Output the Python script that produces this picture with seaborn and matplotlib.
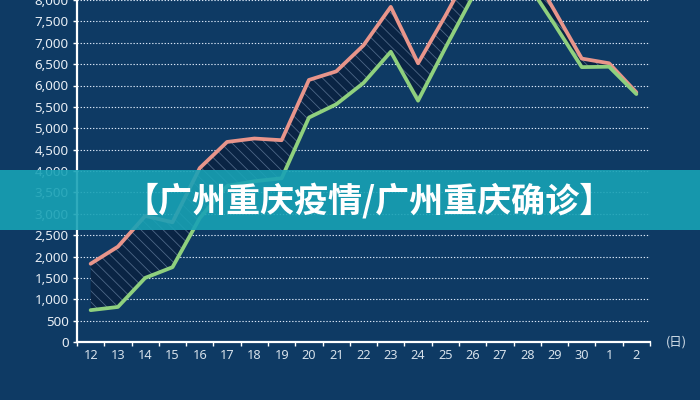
import numpy as np
import pandas as pd
import matplotlib
matplotlib.use("Agg")
import matplotlib.pyplot as plt
import seaborn as sns
from matplotlib.patches import Rectangle
from matplotlib.ticker import FuncFormatter

days = ["12", "13", "14", "15", "16", "17", "18", "19", "20", "21", "22",
        "23", "24", "25", "26", "27", "28", "29", "30", "1", "2"]
upper_vals = [1830, 2230, 2950, 2800, 4070, 4680, 4760, 4720, 6130, 6330, 6940,
              7840, 6520, 7630, 8800, 9100, 8850, 7750, 6630, 6520, 5840]
lower_vals = [745, 820, 1500, 1750, 2900, 3650, 3760, 3830, 5250, 5560, 6060,
              6790, 5645, 6880, 8080, 8700, 8400, 7430, 6430, 6440, 5800]
y_ticks = list(range(0, 8001, 500))
title_text = "【广州重庆疫情/广州重庆确诊】"
unit_text = "(日)"

BG = "#0e3a64"
RED = "#e8958b"
GREEN = "#8fd07e"
TEAL = "#18a2b5"

sns.set_theme(style="dark")
plt.rcParams["font.family"] = ["Noto Sans", "Noto Sans CJK SC", "DejaVu Sans"]
plt.rcParams["hatch.linewidth"] = 0.6

fig = plt.figure(figsize=(7, 4), dpi=100, facecolor=BG)
ax = fig.add_axes([77 / 700, 1 - 342 / 400, (650 - 77) / 700, 342 / 400])
ax.set_facecolor(BG)

pos = np.arange(len(days))
df = pd.DataFrame({"pos": np.concatenate([pos, pos]),
                   "value": upper_vals + lower_vals,
                   "series": ["upper"] * len(days) + ["lower"] * len(days)})

ax.fill_between(pos, lower_vals, upper_vals, facecolor="#0a2444",
                edgecolor=(0.7, 0.8, 0.92, 0.4), hatch="\\\\\\", linewidth=0, zorder=2)
sns.lineplot(data=df, x="pos", y="value", hue="series",
             palette={"upper": RED, "lower": GREEN}, linewidth=2.7,
             legend=False, ax=ax, zorder=3)

ax.set_xlim(-0.5, len(days) - 0.5)
ax.set_ylim(0, 7960)
ax.set_yticks(y_ticks)
ax.yaxis.set_major_formatter(FuncFormatter(lambda v, p: f"{int(v):,}"))
ax.set_xticks(pos)
ax.set_xticklabels(days)
ax.set_xticks(np.arange(-0.5, len(days)), minor=True)
ax.set_xlabel("")
ax.set_ylabel("")

ax.grid(False)
ax.yaxis.grid(True, color=(0.85, 0.9, 0.97, 0.75), linestyle=(0, (1.2, 1.6)), linewidth=0.8, zorder=1)
ax.set_axisbelow(True)

for s in ["top", "right"]:
    ax.spines[s].set_visible(False)
for s in ["left", "bottom"]:
    ax.spines[s].set_visible(True)
    ax.spines[s].set_color("white")
    ax.spines[s].set_linewidth(1.6)

ax.tick_params(axis="y", which="major", left=True, length=3, width=1, color="white",
               labelcolor="#e8eef5", labelsize=9.6, pad=3)
for lab in ax.get_yticklabels():
    lab.set_fontweight("bold")
ax.tick_params(axis="x", which="major", bottom=False, length=0, labelcolor="#d5e0ea",
               labelsize=9.2, pad=5)
ax.tick_params(axis="x", which="minor", bottom=True, length=3, width=1, color="white")

fig.text(676 / 700, 1 - 342 / 400, unit_text, color="#d5e0ea", fontsize=9,
         ha="center", va="center", family=["Noto Sans CJK SC", "DejaVu Sans"])

fig.patches.append(Rectangle((0, 1 - 230 / 400), 1, 60 / 400, transform=fig.transFigure,
                             facecolor=TEAL, alpha=0.9, edgecolor="none", zorder=5))
fig.text(369 / 700, 1 - 201 / 400, title_text, color="white", fontsize=24.5,
         fontweight="heavy", ha="center", va="center", zorder=6,
         family=["Noto Sans CJK SC", "DejaVu Sans"])

fig.savefig("out.png", dpi=100, facecolor=BG)
